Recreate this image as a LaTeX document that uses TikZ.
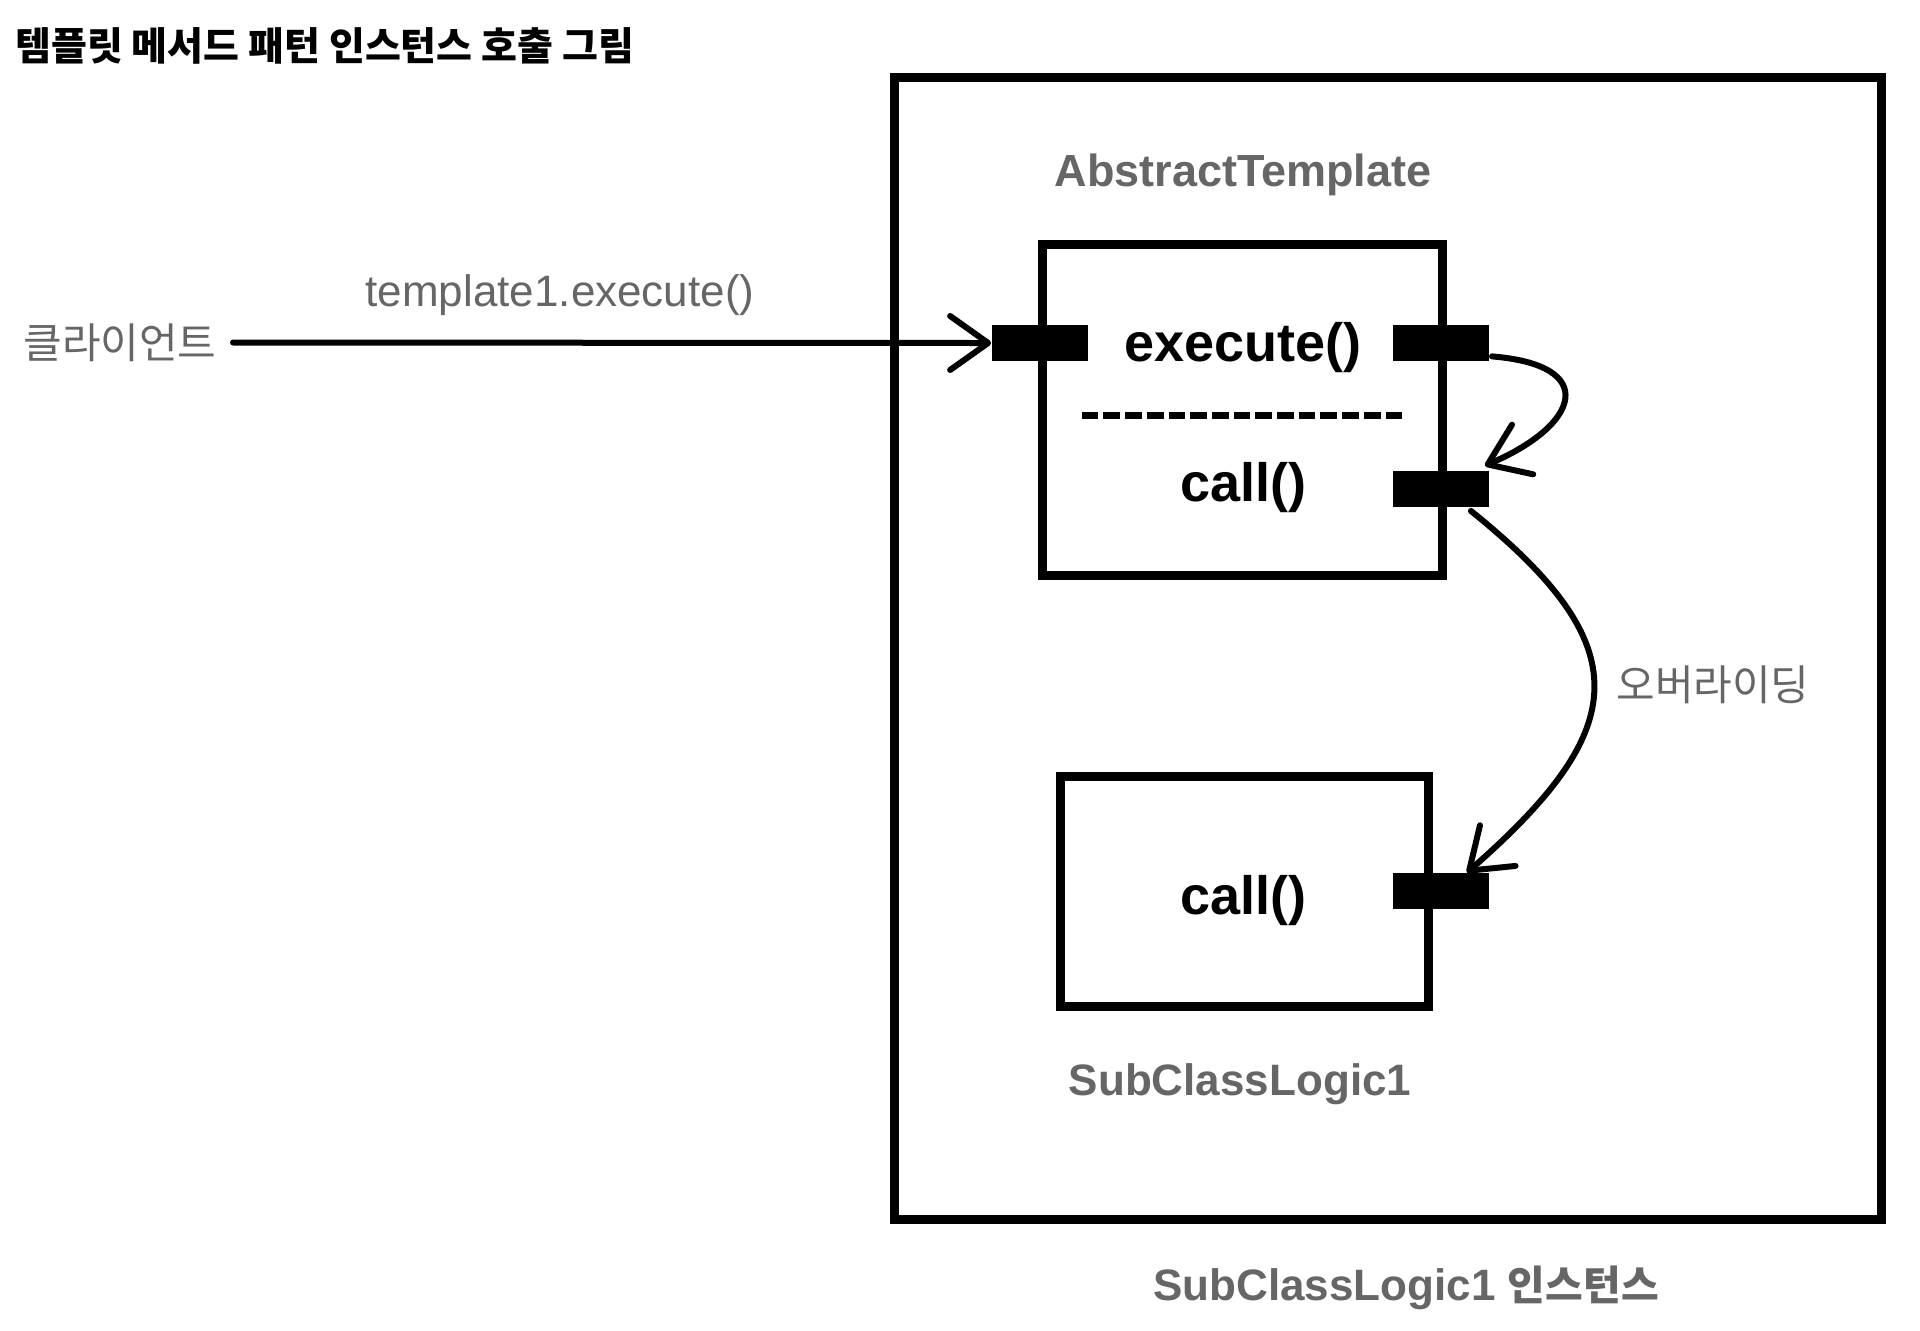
\documentclass[tikz,border=0pt]{standalone}
\usepackage{fontspec}
\setmainfont{Liberation Sans}
\newfontfamily\kr{Noto Sans CJK KR}
\usetikzlibrary{arrows.meta,calc}
\definecolor{txtgray}{RGB}{102,102,102}
\begin{document}
\begin{tikzpicture}[x=0.5pt,y=-0.5pt,
  frame/.style={draw=black,line width=4.5pt,inner sep=0pt,fill=none},
  port/.style={fill=black,draw=none,inner sep=0pt,minimum width=48pt,minimum height=18pt},
  graylbl/.style={inner sep=0pt,text=txtgray,font=\bfseries\fontsize{22.5pt}{24pt}\selectfont},
  method/.style={inner sep=0pt,anchor=base,text=black,font=\bfseries\fontsize{27pt}{29pt}\selectfont},
  krlbl/.style={inner sep=0pt,anchor=west,text=txtgray,font=\kr\fontsize{21pt}{23pt}\selectfont},
  sketch/.style={line width=3pt,line cap=round,line join=round},
  barb/.style={-{Straight Barb[length=19pt,width=27pt,line width=3pt,round]}}
]
\useasboundingbox[fill=white] (0,0) rectangle (1920,1330);

% title
\node[anchor=west,inner sep=0pt,font=\kr\bfseries\fontsize{19.5pt}{21pt}\selectfont] (title) at (15,46) {템플릿 메서드 패턴 인스턴스 호출 그림};

% outer instance box
\node[frame,minimum width=493.5pt,minimum height=571.25pt] (outer) at (1388,648.25) {};

% AbstractTemplate box
\node[frame,minimum width=200pt,minimum height=165.5pt] (abs) at (1242,409.5) {};
% SubClassLogic1 box
\node[frame,minimum width=184.25pt,minimum height=115pt] (sub) at (1244.25,891) {};

% separator
\draw[line width=3.5pt,dash pattern=on 8.35pt off 2.5pt] ($(abs.west)+(44.2,6.2)$) -- ($(abs.east)+(-44.3,6.2)$);

% ports
\node[port] (pl) at (1039.5,343) {};
\node[port] (pr1) at (1440.5,343) {};
\node[port] (pr2) at (1440.5,488.5) {};
\node[port] (pr3) at (1440.5,890.5) {};

% texts
\node[graylbl,anchor=base] (abslbl) at (1243,186) {AbstractTemplate};
\node[method] (exec) at (1243,361.5) {execute()};
\node[method] (call1) at (1243,501) {call()};
\node[method] (call2) at (1243,914) {call()};
\node[graylbl,anchor=base,font=\bfseries\fontsize{22pt}{24pt}\selectfont] (sublbl) at (1240,1095) {SubClassLogic1};
\node[graylbl,anchor=base,font=\bfseries\fontsize{22pt}{24pt}\selectfont] (instlbl) at (1406,1300) {SubClassLogic1 {\kr\fontsize{20.5pt}{22pt}\selectfont 인스턴스}};

\node[krlbl] (client) at (23,342.5) {클라이언트};
\node[inner sep=0pt,anchor=base,text=txtgray,font=\fontsize{22pt}{24pt}\selectfont] (calllbl) at (560,306) {template1.execute()};
\node[krlbl] (override) at (1616,685) {오버라이딩};

% connectors
\draw[sketch,barb,shorten <=8pt] (client.east) -- (pl.west);
\draw[sketch,barb] ($(pr1.south east)+(3,-5)$) .. controls (1600,365) and (1580,425) .. ($(pr2.north east)+(-4,-4.5)$);
\draw[sketch,barb] ($(pr2.south east)+(-18,4)$) .. controls (1640,647) and (1631,729) .. ($(pr3.north east)+(-22,0.5)$);
\end{tikzpicture}
\end{document}
